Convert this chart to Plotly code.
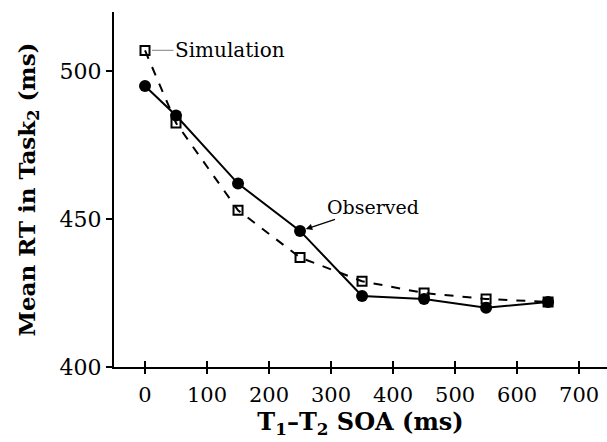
import plotly.graph_objects as go

soa = [0, 50, 150, 250, 350, 450, 550, 650]
observed = [495, 485, 462, 446, 424, 423, 420, 422]
simulation = [507, 482.5, 453, 437, 429, 425, 423, 422]
x_ticks = [0, 100, 200, 300, 400, 500, 600, 700]
y_ticks = [400, 450, 500]

FONT = "DejaVu Serif"

fig = go.Figure()
fig.add_trace(go.Scatter(x=soa, y=observed, mode="lines+markers",
                         line=dict(color="black", width=2),
                         marker=dict(symbol="circle", size=12, color="black"),
                         showlegend=False))
fig.add_trace(go.Scatter(x=soa, y=simulation, mode="lines+markers",
                         line=dict(color="black", width=2, dash="dash"),
                         marker=dict(symbol="square-open", size=9, color="black",
                                     line=dict(width=2, color="black")),
                         showlegend=False))
# invisible copy on a second x axis (free, same position) providing the outward half of crossing ticks
fig.add_trace(go.Scatter(x=soa, y=observed, xaxis="x2", yaxis="y", mode="markers",
                         marker=dict(opacity=0), hoverinfo="skip", showlegend=False))

fig.add_annotation(x=0, y=simulation[0], text="Simulation", showarrow=True,
                   ax=85, ay=0, arrowhead=0, arrowwidth=1.2, arrowcolor="#999999",
                   standoff=7, font=dict(family=FONT, size=20, color="black"))
fig.add_annotation(x=250, y=observed[3], text="Observed", showarrow=True,
                   ax=73, ay=-24, arrowhead=2, arrowsize=1, arrowwidth=1.3,
                   arrowcolor="black", standoff=6,
                   font=dict(family=FONT, size=19, color="black"))

fig.update_layout(
    width=607, height=442,
    margin=dict(l=114, r=0, t=12, b=75),
    paper_bgcolor="white", plot_bgcolor="white",
    font=dict(family=FONT, size=22, color="black"),
    xaxis=dict(range=[-50, 745], tickvals=x_ticks, ticks="inside", ticklen=6,
               tickwidth=1.5, tickcolor="black", showline=True, linecolor="black",
               linewidth=2, showgrid=False, zeroline=False,
               tickfont=dict(family=FONT, size=21), ticklabelstandoff=8,
               title=dict(text="<b>T<sub>1</sub>–T<sub>2</sub> SOA (ms)</b>",
                          font=dict(family=FONT, size=24), standoff=7)),
    xaxis2=dict(range=[-50, 745], tickvals=x_ticks, ticks="outside", ticklen=6,
                tickwidth=1.5, tickcolor="black", showticklabels=False,
                overlaying="x", anchor="free", position=0, side="bottom",
                showgrid=False, zeroline=False, showline=False),
    yaxis=dict(range=[400, 520], tickvals=y_ticks, ticks="outside", ticklen=6,
               tickwidth=1.5, tickcolor="black", showline=True, linecolor="black",
               linewidth=2, showgrid=False, zeroline=False,
               tickfont=dict(family=FONT, size=22),
               title=dict(text="<b>Mean RT in Task<sub>2</sub> (ms)</b>",
                          font=dict(family=FONT, size=23), standoff=18)),
)

fig.write_html("out.html")
